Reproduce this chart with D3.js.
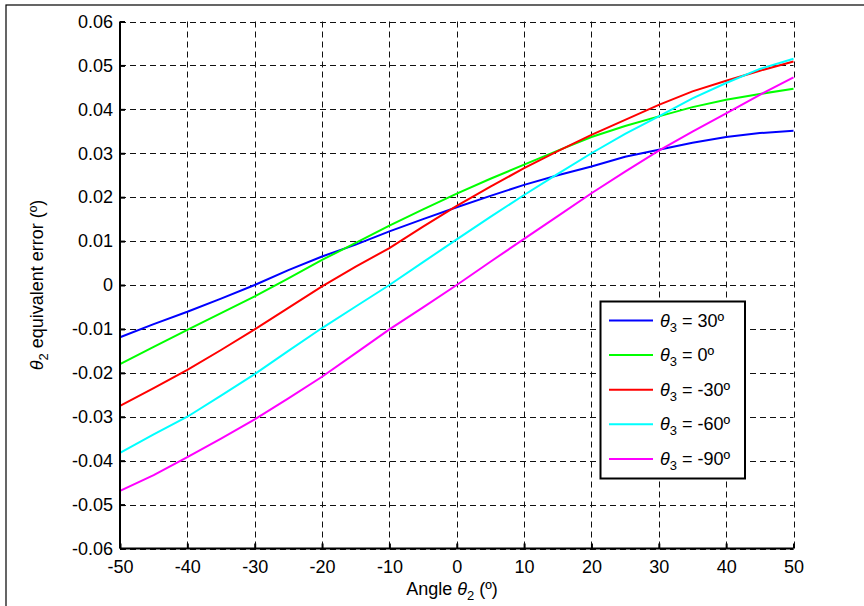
<!DOCTYPE html>
<html><head><meta charset="utf-8">
<script src="https://cdn.jsdelivr.net/npm/d3@7"></script>
<style>body{margin:0;background:#fff;} svg{display:block;font-family:"Liberation Sans",Arial,sans-serif;}</style>
</head><body>
<svg id="chart" width="864" height="606"></svg>
<script>
const angles = [-50,-45,-40,-35,-30,-25,-20,-15,-10,-5,0,5,10,15,20,25,30,35,40,45,50];
const theta30 = [-0.0119,-0.0089,-0.0061,-0.0031,0.0000,0.0034,0.0065,0.0092,0.0122,0.0150,0.0177,0.0203,0.0228,0.0250,0.0270,0.0292,0.0308,0.0324,0.0337,0.0346,0.0351];
const theta0 = [-0.0180,-0.0141,-0.0102,-0.0064,-0.0026,0.0015,0.0057,0.0096,0.0135,0.0172,0.0208,0.0242,0.0274,0.0306,0.0337,0.0362,0.0384,0.0405,0.0422,0.0435,0.0447];
const thetaM30 = [-0.0275,-0.0235,-0.0193,-0.0148,-0.0101,-0.0052,-0.0003,0.0042,0.0084,0.0133,0.0180,0.0224,0.0266,0.0305,0.0342,0.0376,0.0410,0.0441,0.0465,0.0488,0.0509];
const thetaM60 = [-0.0382,-0.0340,-0.0300,-0.0252,-0.0203,-0.0150,-0.0098,-0.0049,0.0000,0.0052,0.0104,0.0155,0.0205,0.0253,0.0300,0.0344,0.0384,0.0425,0.0460,0.0492,0.0515];
const thetaM90 = [-0.0469,-0.0433,-0.0392,-0.0350,-0.0306,-0.0258,-0.0209,-0.0155,-0.0101,-0.0051,0.0000,0.0053,0.0105,0.0157,0.0209,0.0258,0.0306,0.0349,0.0391,0.0433,0.0473];
const seriesLabels = ["30º","0º","-30º","-60º","-90º"];
const seriesColors = ["#0000ff","#00ff00","#ff0000","#00ffff","#ff00ff"];
const xTicks = [-50,-40,-30,-20,-10,0,10,20,30,40,50];
const yTicks = [-0.06,-0.05,-0.04,-0.03,-0.02,-0.01,0,0.01,0.02,0.03,0.04,0.05,0.06];

const seriesValues = [theta30, theta0, thetaM30, thetaM60, thetaM90];
const svg = d3.select("#chart");
const L = 120, R = 793.5, T = 21.5, B = 548.5;
const FS = 18;
const x = d3.scaleLinear().domain([-50,50]).range([L,R]);
const y = d3.scaleLinear().domain([-0.06,0.06]).range([B,T]);

// outer figure border
svg.append("rect").attr("x",6).attr("y",5).attr("width",900).attr("height",700)
  .attr("fill","none").attr("stroke","#000").attr("stroke-width",1.2);

// grid
const grid = svg.append("g").attr("stroke","#111").attr("stroke-width",1).attr("stroke-dasharray","6,4");
grid.selectAll("line.v").data(xTicks).join("line").attr("class","v")
  .attr("x1",d=>Math.round(x(d))+0.5).attr("x2",d=>Math.round(x(d))+0.5).attr("y1",T).attr("y2",B);
grid.selectAll("line.h").data(yTicks).join("line").attr("class","h")
  .attr("y1",d=>Math.round(y(d))+0.5).attr("y2",d=>Math.round(y(d))+0.5).attr("x1",L).attr("x2",R);

// lines
const line = d3.line().x((d,i)=>x(angles[i])).y(d=>y(d));
svg.append("g").selectAll("path").data(seriesValues).join("path")
  .attr("d",d=>line(d)).attr("fill","none")
  .attr("stroke",(d,i)=>seriesColors[i]).attr("stroke-width",2);

// axes
const fmtY = d => d===0 ? "0" : (d<0?"-":"") + Math.abs(d).toFixed(2);
const fmtX = d => (d<0?"-":"") + Math.abs(d);
const yAxis = d3.axisLeft(y).tickValues(yTicks).tickSize(-5).tickPadding(7).tickFormat(fmtY);
const gy = svg.append("g").attr("transform",`translate(${L},0)`).call(yAxis);
const xAxis = d3.axisBottom(x).tickValues(xTicks).tickSize(-5).tickPadding(9).tickFormat(fmtX);
const gx = svg.append("g").attr("transform",`translate(0,${B})`).call(xAxis);
[gx,gy].forEach(g=>{
  g.select(".domain").attr("stroke","#000").attr("stroke-width",2);
  g.selectAll(".tick line").attr("stroke","#000").attr("stroke-width",2);
  g.selectAll("text").attr("fill","#000").attr("font-size",FS).attr("font-family","Liberation Sans, Arial, sans-serif");
});
gy.select(".domain").attr("d",`M0,${T}V${B}`);
gx.select(".domain").attr("d",`M${L},0H${R}`);
gx.selectAll("text").attr("dy","0.85em");

// axis titles
const xt = svg.append("text").attr("x",452).attr("y",595).attr("text-anchor","middle")
  .attr("font-size",FS).attr("fill","#000");
xt.append("tspan").text("Angle ");
xt.append("tspan").attr("font-style","italic").text("θ");
xt.append("tspan").attr("font-size",13).attr("dy",5).text("2");
xt.append("tspan").attr("dy",-5).text(" (º)");

const yt = svg.append("text").attr("transform","translate(43,285) rotate(-90)").attr("text-anchor","middle")
  .attr("font-size",FS).attr("fill","#000");
yt.append("tspan").attr("font-style","italic").text("θ");
yt.append("tspan").attr("font-size",13).attr("dy",5).text("2");
yt.append("tspan").attr("dy",-5).text(" equivalent error (º)");

// legend
const lg = svg.append("g");
lg.append("rect").attr("x",600.5).attr("y",301.5).attr("width",144.5).attr("height",177)
  .attr("fill","#fff").attr("stroke","#000").attr("stroke-width",2);
const items = lg.selectAll("g.item").data(seriesLabels).join("g").attr("class","item")
  .attr("transform",(d,i)=>`translate(0,${320.5+i*34.6})`);
items.append("line").attr("x1",609).attr("x2",653).attr("y1",0).attr("y2",0)
  .attr("stroke",(d,i)=>seriesColors[i]).attr("stroke-width",2);
const tt = items.append("text").attr("x",660).attr("y",6).attr("font-size",FS).attr("fill","#000");
tt.append("tspan").attr("font-style","italic").text("θ");
tt.append("tspan").attr("font-size",13).attr("dy",5).text("3");
tt.append("tspan").attr("dy",-5).text(d=>" = "+d);
</script>
</body></html>
